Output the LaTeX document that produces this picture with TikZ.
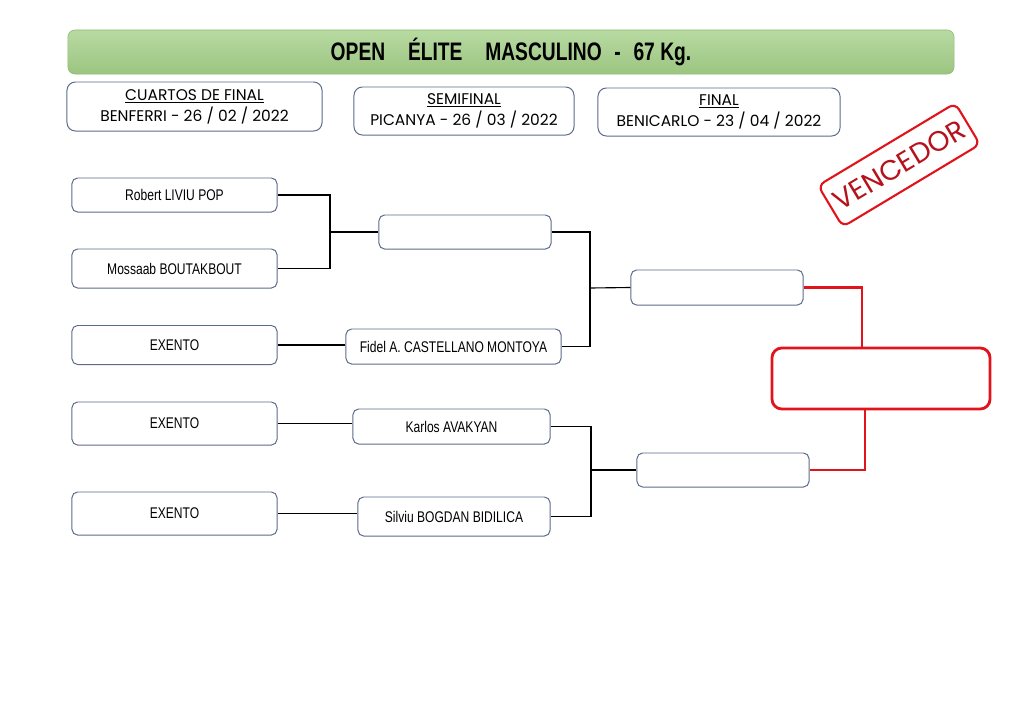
\documentclass[tikz,border=0pt]{standalone}
\usepackage{fontspec}
\setmainfont{Liberation Sans}
\newfontfamily\namefont[FakeStretch=0.78]{Liberation Sans}
\newfontfamily\titlefont[FakeStretch=0.76]{Liberation Sans}
\newfontfamily\handfont{Poppins}
\usepackage{tikz}
\usetikzlibrary{calc, positioning}
\definecolor{boxBlue}{HTML}{5B6B8A}
\definecolor{barTop}{HTML}{B8DAA2}
\definecolor{barBot}{HTML}{9CC581}
\definecolor{barLine}{HTML}{8DBB72}
\definecolor{winRed}{HTML}{E2141B}
\definecolor{stampRed}{HTML}{B5121B}

\begin{document}
\begin{tikzpicture}[x=0.025cm, y=-0.025cm,
	player/.style={draw=boxBlue, line width=0.7pt, rounded corners=4pt, fill=white, font=\namefont\fontsize{11}{13}\selectfont, inner sep=0pt},
	roundhead/.style={draw=boxBlue, line width=0.7pt, rounded corners=6pt, fill=white, align=center, font=\handfont\fontsize{11}{15}\selectfont, inner sep=0pt},
	link/.style={line width=0.8pt, black},
	winlink/.style={line width=2pt, winRed}]
	\useasboundingbox (0,0) rectangle (1024,723);

	%Titulo
	\node[rounded corners=5pt, draw=barLine, top color=barTop, bottom color=barBot, minimum width=22.15cm, minimum height=1.1cm] (title) at (511,52) {\titlefont\bfseries\fontsize{18}{20}\selectfont OPEN\hspace{0.9em}ÉLITE\hspace{0.9em}MASCULINO\hspace{0.5em}-\hspace{0.5em}67 Kg.};

	\node[roundhead, minimum width=6.375cm, minimum height=1.225cm] (h1) at (194.5,106.5) {\underline{CUARTOS DE FINAL}\\BENFERRI - 26 / 02 / 2022};
	\node[roundhead, minimum width=5.5cm, minimum height=1.2cm] (h2) at (464,111) {\underline{SEMIFINAL}\\PICANYA - 26 / 03 / 2022};
	\node[roundhead, minimum width=6.05cm, minimum height=1.2cm] (h3) at (719,112) {\underline{FINAL}\\BENICARLO - 23 / 04 / 2022};

	%Cuartos
	\node[player, minimum width=5.125cm, minimum height=0.85cm] (q1) at (174.5,195) {Robert LIVIU POP};
	\node[player, minimum width=5.125cm, minimum height=0.975cm] (q2) at (174.5,268.5) {Mossaab BOUTAKBOUT};
	\node[player, minimum width=5.125cm, minimum height=0.975cm] (q3) at (174.5,345) {EXENTO};
	\node[player, minimum width=5.125cm, minimum height=1.075cm] (q4) at (174.5,423.5) {EXENTO};
	\node[player, minimum width=5.125cm, minimum height=1.075cm] (q5) at (174.5,513.5) {EXENTO};

	%Semifinal
	\node[player, minimum width=4.3cm, minimum height=0.85cm] (s1) at (465,232) {};
	\node[player, minimum width=5.375cm, minimum height=0.875cm] (s2) at (453.5,346.5) {Fidel A. CASTELLANO MONTOYA};
	\node[player, minimum width=4.925cm, minimum height=0.875cm] (s3) at (451.5,426.5) {Karlos AVAKYAN};
	\node[player, minimum width=4.8cm, minimum height=0.975cm] (s4) at (454,516.5) {Silviu BOGDAN BIDILICA};

	%Final
	\node[player, minimum width=4.3cm, minimum height=0.875cm] (f1) at (717,287.5) {};
	\node[player, minimum width=4.3cm, minimum height=0.85cm] (f2) at (723,470) {};
	\node[draw=winRed, line width=2pt, rounded corners=7pt, fill=white, minimum width=5.45cm, minimum height=1.525cm] (win) at (881,378.5) {};

	\coordinate (j1) at (330,232);
	\coordinate (j2) at (590,288);
	\coordinate (j3) at (591,470);
	\coordinate (r1) at (862,0);
	\coordinate (r2) at (865,0);

	\draw[link] (q1.east) -| (j1) |- (q2.east);
	\draw[link] (j1) -- (s1.west);
	\draw[link] (q3.east) -- (q3.east -| s2.west);
	\draw[link] (q4.east) -- (q4.east -| s3.west);
	\draw[link] (q5.east) -- (q5.east -| s4.west);
	\draw[link] (s1.east) -| (j2) |- (s2.east);
	\draw[link] (j2) -- (f1.west);
	\draw[link] (s3.east) -| (j3) |- (s4.east);
	\draw[link] (j3) -- (f2.west);
	\draw[winlink] (f1.east) -| (r1 |- win.north);
	\draw[winlink] (f2.east) -| (r2 |- win.south);

	%Sello
	\node[draw=winRed, line width=1.5pt, rounded corners=5pt, rotate=31, minimum width=4cm, minimum height=1.2cm, text=stampRed, font=\handfont\fontsize{20}{20}\selectfont] (stamp) at (899,165) {VENCEDOR};

\end{tikzpicture}
\end{document}
